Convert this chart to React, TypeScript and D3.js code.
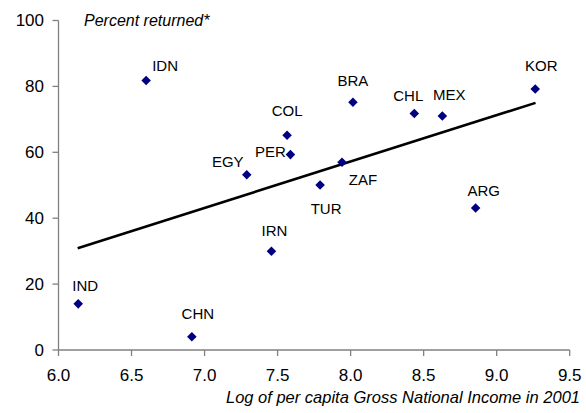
import React from "react";
import * as d3 from "d3";

// country codes, log GNI per capita 2001, percent returned
const codes = ["IDN", "COL", "PER", "EGY", "BRA", "CHL", "MEX", "KOR", "ZAF", "TUR", "ARG", "IRN", "IND", "CHN"];
const logGni = [6.6, 7.565, 7.588, 7.289, 8.016, 8.436, 8.628, 9.264, 7.941, 7.791, 8.856, 7.458, 6.135, 6.913];
const pctReturned = [81.8, 65.2, 59.3, 53.2, 75.2, 71.8, 71.0, 79.2, 57.0, 50.1, 43.1, 30.0, 14.0, 4.0];

// fitted trend line end points (x, y)
const trendX = [6.131, 9.266];
const trendY = [30.9, 75.0];

const xTicks = [6.0, 6.5, 7.0, 7.5, 8.0, 8.5, 9.0, 9.5];
const yTicks = [0, 20, 40, 60, 80, 100];

// label offsets from the marker (pixels), text centred
const labelOffset: Record<string, [number, number]> = {
  IDN: [19, -15],
  COL: [0, -25],
  PER: [-20, -3],
  EGY: [-19, -13],
  BRA: [0, -22],
  CHL: [-6, -18],
  MEX: [7, -21],
  KOR: [6, -23],
  ZAF: [21, 17],
  TUR: [6, 24],
  ARG: [8, -17],
  IRN: [3, -21],
  IND: [7, -18],
  CHN: [6, -23],
};

const font = "'Liberation Sans', Arial, sans-serif";

export default function App() {
  const width = 586;
  const height = 413;
  const left = 58.5;
  const right = 569.7;
  const top = 20.5;
  const bottom = 350;

  const x = d3.scaleLinear().domain([6, 9.5]).range([left, right]);
  const y = d3.scaleLinear().domain([0, 100]).range([bottom, top]);

  const diamond = d3.symbol(d3.symbolDiamond2, 58)();
  const trend = d3
    .line<number>()
    .x((d) => x(d))
    .y((_, i) => y(trendY[i]))(trendX);

  const axisColor = "#808080";

  return (
    <svg
      width={width}
      height={height}
      style={{ position: "absolute", left: 0, top: 0, background: "#fff" }}
      fontFamily={font}
    >
      {/* y axis */}
      <line x1={left} x2={left} y1={top} y2={bottom} stroke={axisColor} strokeWidth={1.3} />
      {yTicks.map((t) => (
        <g key={t} transform={`translate(0,${y(t)})`}>
          <line x1={left - 6} x2={left} stroke={axisColor} strokeWidth={1.3} />
          <text x={44} dy="0.35em" textAnchor="end" fontSize={17} fill="#000">
            {t}
          </text>
        </g>
      ))}

      {/* x axis */}
      <line x1={left} x2={right} y1={bottom} y2={bottom} stroke={axisColor} strokeWidth={1.3} />
      {xTicks.map((t) => (
        <g key={t} transform={`translate(${x(t)},${bottom})`}>
          <line y1={0} y2={6} stroke={axisColor} strokeWidth={1.3} />
          <text y={25} dy="0.35em" textAnchor="middle" fontSize={17} fill="#000">
            {t.toFixed(1)}
          </text>
        </g>
      ))}

      <text x={84} y={26} fontSize={16} fontStyle="italic" fill="#000">
        Percent returned*
      </text>
      <text x={580} y={403} textAnchor="end" fontSize={16.5} fontStyle="italic" fill="#000">
        Log of per capita Gross National Income in 2001
      </text>

      {/* trend line */}
      <path d={trend ?? ""} fill="none" stroke="#000" strokeWidth={2.6} />

      {/* points */}
      {codes.map((c, i) => {
        const px = x(logGni[i]);
        const py = y(pctReturned[i]);
        const [dx, dy] = labelOffset[c];
        return (
          <g key={c}>
            <path d={diamond ?? ""} transform={`translate(${px},${py})`} fill="#000080" />
            <text
              x={px + dx}
              y={py + dy}
              dy="0.36em"
              textAnchor="middle"
              fontSize={15}
              fill="#000"
            >
              {c}
            </text>
          </g>
        );
      })}
    </svg>
  );
}
